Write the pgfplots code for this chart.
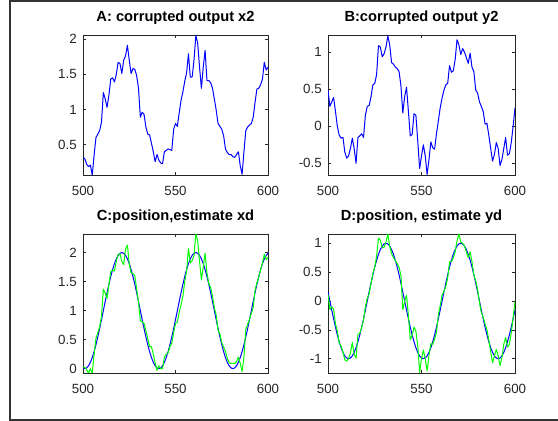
\documentclass[border=0pt]{standalone}
\usepackage{pgfplots}
\pgfplotsset{compat=1.18}
\usepackage{pgfplotstable}
\usepackage{fontspec}
\setmainfont{Liberation Sans}
\definecolor{mBlue}{RGB}{0,0,255}
\definecolor{mGreen}{RGB}{0,255,0}
\definecolor{mAxis}{RGB}{38,38,38}

% t, x2, y2, xd(est), yd(est), x, y
\pgfplotstableread{
t a b c d x y
500 0.32 0.49 0.03 0.11 0.0123 0.1564
501 0.30 0.27 0.02 -0.15 0.0000 0.0000
502 0.22 0.33 -0.02 -0.10 0.0123 -0.1564
503 0.19 0.39 -0.08 -0.14 0.0489 -0.3090
504 0.21 0.20 0.00 -0.40 0.1090 -0.4540
505 0.07 0.00 -0.08 -0.52 0.1910 -0.5878
506 0.35 -0.12 0.25 -0.73 0.2929 -0.7071
507 0.60 -0.16 0.52 -0.78 0.4122 -0.8090
508 0.65 -0.15 0.62 -0.88 0.5460 -0.8910
509 0.70 -0.35 0.72 -1.02 0.6910 -0.9511
510 0.82 -0.43 0.90 -1.04 0.8436 -0.9877
511 1.24 -0.40 1.37 -1.00 1.0000 -1.0000
512 1.15 -0.30 1.30 -0.90 1.1564 -0.9877
513 1.03 -0.16 1.21 -0.72 1.3090 -0.9511
514 1.20 -0.30 1.45 -0.93 1.4540 -0.8910
515 1.43 -0.50 1.67 -0.99 1.5878 -0.8090
516 1.45 -0.15 1.70 -0.58 1.7071 -0.7071
517 1.39 -0.13 1.68 -0.56 1.8090 -0.5878
518 1.50 -0.10 1.85 -0.46 1.8910 -0.4540
519 1.67 -0.15 1.97 -0.33 1.9511 -0.3090
520 1.65 0.15 1.98 -0.10 1.9877 -0.1564
521 1.51 0.27 1.85 0.05 2.0000 0.0000
522 1.70 0.28 1.79 0.12 1.9877 0.1564
523 1.76 0.40 2.06 0.30 1.9511 0.3090
524 1.91 0.56 2.13 0.48 1.8910 0.4540
525 1.70 0.58 1.80 0.59 1.8090 0.5878
526 1.51 0.70 1.65 0.78 1.7071 0.7071
527 1.58 1.09 1.64 1.09 1.5878 0.8090
528 1.57 1.07 1.60 1.05 1.4540 0.8910
529 1.48 0.94 1.37 0.92 1.3090 0.9511
530 1.30 0.98 1.15 0.93 1.1564 0.9877
531 0.89 1.07 0.82 1.02 1.0000 1.0000
532 0.96 1.22 0.81 1.16 0.8436 0.9877
533 0.93 1.10 0.78 0.95 0.6910 0.9511
534 0.75 0.86 0.65 0.82 0.5460 0.8910
535 0.65 0.84 0.52 0.75 0.4122 0.8090
536 0.64 0.80 0.38 0.70 0.2929 0.7071
537 0.52 0.78 0.38 0.65 0.1910 0.5878
538 0.40 0.74 0.25 0.58 0.1090 0.4540
539 0.26 0.55 0.10 0.45 0.0489 0.3090
540 0.36 0.18 -0.03 -0.15 0.0123 0.1564
541 0.28 0.40 0.05 0.00 0.0000 0.0000
542 0.24 0.53 0.00 0.10 0.0123 -0.1564
543 0.23 0.20 0.00 -0.25 0.0489 -0.3090
544 0.40 -0.13 0.20 -0.67 0.1090 -0.4540
545 0.42 -0.11 0.25 -0.60 0.1910 -0.5878
546 0.44 0.17 0.27 -0.45 0.2929 -0.7071
547 0.43 0.15 0.38 -0.52 0.4122 -0.8090
548 0.42 -0.20 0.44 -0.78 0.5460 -0.8910
549 0.72 -0.57 0.62 -1.24 0.6910 -0.9511
550 0.80 -0.40 0.78 -1.00 0.8436 -0.9877
551 0.76 -0.25 0.80 -0.85 1.0000 -1.0000
552 0.95 -0.40 0.97 -1.00 1.1564 -0.9877
553 1.13 -0.65 1.10 -1.21 1.3090 -0.9511
554 1.25 -0.45 1.25 -0.95 1.4540 -0.8910
555 1.40 -0.21 1.50 -0.74 1.5878 -0.8090
556 1.52 -0.29 1.68 -0.75 1.7071 -0.7071
557 1.79 -0.31 2.07 -0.66 1.8090 -0.5878
558 1.46 -0.10 1.82 -0.55 1.8910 -0.4540
559 1.46 0.07 1.86 -0.24 1.9511 -0.3090
560 1.70 0.25 1.95 -0.08 1.9877 -0.1564
561 2.05 0.38 2.32 0.10 2.0000 0.0000
562 1.94 0.49 2.20 0.17 1.9877 0.1564
563 1.60 0.56 1.85 0.25 1.9511 0.3090
564 1.30 0.58 1.53 0.40 1.8910 0.4540
565 1.60 0.82 1.75 0.68 1.8090 0.5878
566 1.84 0.73 1.99 0.68 1.7071 0.7071
567 1.41 0.75 1.65 0.75 1.5878 0.8090
568 1.41 0.90 1.47 0.85 1.4540 0.8910
569 1.38 1.17 1.40 1.05 1.3090 0.9511
570 1.30 1.10 1.25 1.16 1.1564 0.9877
571 1.15 0.97 1.05 1.02 1.0000 1.0000
572 0.99 1.05 0.92 1.00 0.8436 0.9877
573 0.80 1.00 0.66 0.95 0.6910 0.9511
574 0.76 0.93 0.60 0.85 0.5460 0.8910
575 0.72 0.85 0.45 0.75 0.4122 0.8090
576 0.63 0.99 0.37 0.85 0.2929 0.7071
577 0.44 0.80 0.30 0.68 0.1910 0.5878
578 0.39 0.74 0.18 0.45 0.1090 0.4540
579 0.36 0.49 0.10 0.35 0.0489 0.3090
580 0.36 0.45 0.09 0.20 0.0123 0.1564
581 0.33 0.33 0.09 -0.03 0.0000 0.0000
582 0.32 0.27 0.09 -0.20 0.0123 -0.1564
583 0.36 0.20 0.12 -0.28 0.0489 -0.3090
584 0.40 0.03 0.20 -0.40 0.1090 -0.4540
585 0.20 0.04 0.09 -0.50 0.1910 -0.5878
586 0.08 -0.12 -0.05 -0.68 0.2929 -0.7071
587 0.40 -0.30 0.20 -0.88 0.4122 -0.8090
588 0.70 -0.47 0.68 -1.07 0.5460 -0.8910
589 0.75 -0.38 0.76 -0.95 0.6910 -0.9511
590 0.78 -0.22 0.85 -0.84 0.8436 -0.9877
591 0.80 -0.30 0.95 -0.95 1.0000 -1.0000
592 0.89 -0.53 1.05 -1.12 1.1564 -0.9877
593 1.10 -0.45 1.35 -0.98 1.3090 -0.9511
594 1.29 -0.30 1.48 -0.75 1.4540 -0.8910
595 1.30 -0.15 1.58 -0.63 1.5878 -0.8090
596 1.35 -0.39 1.70 -0.80 1.7071 -0.7071
597 1.43 -0.37 1.82 -0.75 1.8090 -0.5878
598 1.67 -0.22 1.97 -0.55 1.8910 -0.4540
599 1.56 0.00 1.88 -0.29 1.9511 -0.3090
600 1.60 0.25 1.92 -0.01 1.9877 -0.1564
}\data

\pgfplotsset{
  mstyle/.style={
    scale only axis,
    anchor=south west,
    xmin=500, xmax=600,
    xtick={500,550,600},
    xticklabels={500,550,600},
    tick align=inside,
    tick pos=both,
    major tick length=2.25pt,
    axis line style={mAxis, line width=0.5pt},
    every tick/.style={mAxis, line width=0.5pt},
    tick label style={font=\fontsize{10}{12}\selectfont, text=mAxis, inner sep=0pt},
    xticklabel style={anchor=base, yshift=-15.4pt},
    yticklabel style={anchor=east, xshift=-4.5pt},
    title style={font=\fontsize{11}{13}\selectfont\bfseries, at={(0.5,1)},
                 anchor=base, yshift=4.3pt, inner sep=0pt},
    every axis plot/.append style={line width=0.75pt, line join=round},
  },
}

\begin{document}
\begin{tikzpicture}
\fill[white] (0,0) rectangle (418.5pt,315.75pt);

% A
\begin{axis}[mstyle, at={(62.25pt,184.5pt)}, width=138.75pt, height=105pt,
  title={A: corrupted output x2},
  ymin=0.07, ymax=2.057,
  ytick={0.5,1,1.5,2}, yticklabels={0.5,1,1.5,2}]
\addplot[mBlue] table[x=t, y=a] {\data};
\end{axis}

% B
\begin{axis}[mstyle, at={(246pt,184.5pt)}, width=140.25pt, height=105pt,
  title={B:corrupted output y2},
  ymin=-0.658, ymax=1.234,
  ytick={-0.5,0,0.5,1}, yticklabels={-0.5,0,0.5,1}]
\addplot[mBlue] table[x=t, y=b] {\data};
\end{axis}

% C
\begin{axis}[mstyle, at={(62.25pt,36pt)}, width=138.75pt, height=104.25pt,
  title={C:position,estimate xd},
  ymin=-0.075, ymax=2.32,
  ytick={0,0.5,1,1.5,2}, yticklabels={0,0.5,1,1.5,2}]
\addplot[mBlue] table[x=t, y=x] {\data};
\addplot[mGreen] table[x=t, y=c] {\data};
\end{axis}

% D
\begin{axis}[mstyle, at={(246pt,36pt)}, width=140.25pt, height=104.25pt,
  title={D:position, estimate yd},
  ymin=-1.247, ymax=1.16,
  ytick={-1,-0.5,0,0.5,1}, yticklabels={-1,-0.5,0,0.5,1}]
\addplot[mBlue] table[x=t, y=y] {\data};
\addplot[mGreen] table[x=t, y=d] {\data};
\end{axis}

% figure frame
\draw[black!80, line width=1.5pt] (418.5pt,315pt) -- (7.5pt,315pt) -- (7.5pt,0.75pt) -- (418.5pt,0.75pt);
\pgfresetboundingbox
\path (0,0) rectangle (418.5pt,315.75pt);
\end{tikzpicture}
\end{document}
